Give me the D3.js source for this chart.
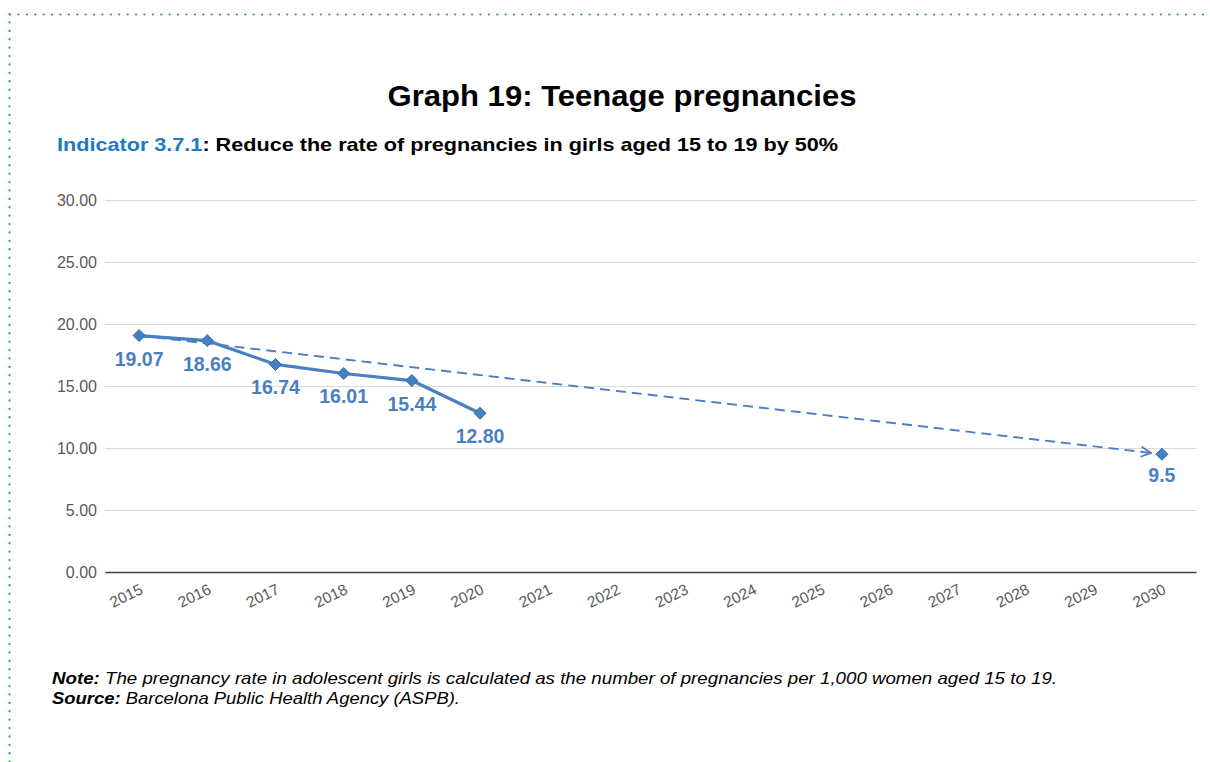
<!DOCTYPE html>
<html><head><meta charset="utf-8">
<script src="https://cdn.jsdelivr.net/npm/d3@7"></script>
<style>
html,body{margin:0;padding:0;background:#fff;}
svg{display:block;font-family:"Liberation Sans",Arial,Helvetica,sans-serif;}
</style></head>
<body>
<svg id="chart" width="1210" height="762"></svg>
<script>
const years = ["2015","2016","2017","2018","2019","2020","2021","2022","2023","2024","2025","2026","2027","2028","2029","2030"];
const actualYears = ["2015","2016","2017","2018","2019","2020"];
const actualValues = [19.07, 18.66, 16.74, 16.01, 15.44, 12.80];
const actualLabels = ["19.07","18.66","16.74","16.01","15.44","12.80"];
const targetYears = ["2015","2030"];
const targetValues = [19.07, 9.5];
const targetLabel = "9.5";
const yTicks = [0, 5, 10, 15, 20, 25, 30];

const svg = d3.select("#chart");
const W = 1210, H = 762;

// dotted green frame
svg.append("line").attr("x1",10).attr("x2",W).attr("y1",14.5).attr("y2",14.5)
  .attr("stroke","#2ea84a").attr("stroke-width",2.2).attr("stroke-linecap","round")
  .attr("stroke-dasharray","0.1 8.3");
svg.append("line").attr("x1",9.5).attr("x2",9.5).attr("y1",14).attr("y2",H)
  .attr("stroke","#2ea84a").attr("stroke-width",2.2).attr("stroke-linecap","round")
  .attr("stroke-dasharray","0.1 8.3");

// titles
svg.append("text").attr("x",622).attr("y",106).attr("text-anchor","middle")
  .attr("font-size",30).attr("font-weight","bold").attr("fill","#000")
  .attr("textLength",469).attr("lengthAdjust","spacingAndGlyphs")
  .text("Graph 19: Teenage pregnancies");
const sub = svg.append("text").attr("x",57).attr("y",151)
  .attr("font-size",19).attr("font-weight","bold").attr("fill","#000")
  .attr("textLength",781).attr("lengthAdjust","spacingAndGlyphs");
sub.append("tspan").attr("fill","#1b7ac4").text("Indicator 3.7.1");
sub.append("tspan").text(": Reduce the rate of pregnancies in girls aged 15 to 19 by 50%");

// scales
const x = d3.scaleBand().domain(years).range([105, 1196]);
const cx = d => x(d) + x.bandwidth()/2;
const y = d3.scaleLinear().domain([0, 30]).range([572, 200]);

// grid + y labels
const yAxis = d3.axisLeft(y).tickValues(yTicks).tickSize(-(1196-105)).tickFormat(d3.format(".2f")).tickPadding(8);
const gy = svg.append("g").attr("transform","translate(105,0)").call(yAxis);
gy.select(".domain").remove();
gy.selectAll(".tick line").attr("stroke","#d9d9d9").attr("stroke-width",1);
gy.selectAll(".tick text").attr("font-size",16).attr("fill","#595959")
  .attr("font-family","Liberation Sans, Arial, sans-serif");

// x axis
const xAxis = d3.axisBottom(x).tickSize(0).tickPadding(0);
const gx = svg.append("g").attr("transform","translate(0,572)").call(xAxis);
gx.select(".domain").attr("stroke","#404040").attr("stroke-width",1.3);
gx.selectAll(".tick text")
  .attr("font-size",15.5).attr("fill","#595959")
  .attr("font-family","Liberation Sans, Arial, sans-serif")
  .attr("text-anchor","end").attr("dy",null).attr("y",0)
  .attr("transform","translate(5,21) rotate(-26)");

// target dashed line with arrow
const defs = svg.append("defs");
defs.append("marker").attr("id","arrow").attr("viewBox","0 0 12 12").attr("refX",11).attr("refY",6)
  .attr("markerWidth",12).attr("markerHeight",12).attr("markerUnits","userSpaceOnUse").attr("orient","auto")
  .append("path").attr("d","M1,1 L11,6 L1,11").attr("fill","none").attr("stroke","#4a7fc1").attr("stroke-width",1.8);

const x0 = cx(targetYears[0]), y0 = y(targetValues[0]);
const x1 = cx(targetYears[1]), y1 = y(targetValues[1]);
const len = Math.hypot(x1-x0, y1-y0), shorten = 11;
svg.append("line").attr("x1",x0).attr("y1",y0)
  .attr("x2",x1 - (x1-x0)/len*shorten).attr("y2",y1 - (y1-y0)/len*shorten)
  .attr("stroke","#4a7fc1").attr("stroke-width",1.9).attr("stroke-dasharray","10 6")
  .attr("marker-end","url(#arrow)");

// actual line
const line = d3.line().x((d,i)=>cx(actualYears[i])).y(d=>y(d));
svg.append("path").datum(actualValues).attr("d",line).attr("fill","none")
  .attr("stroke","#4a7fc1").attr("stroke-width",3.2).attr("stroke-linejoin","round");

function diamond(g, px, py){
  g.append("path").attr("d",`M${px},${py-6} L${px+6},${py} L${px},${py+6} L${px-6},${py} Z`)
   .attr("fill","#4480c4").attr("stroke","#2f6aae").attr("stroke-width",1);
}
const mk = svg.append("g");
actualValues.forEach((v,i)=>diamond(mk, cx(actualYears[i]), y(v)));
diamond(mk, x1, y1);

// data labels
const lab = svg.append("g").attr("font-size",19.5).attr("font-weight","bold").attr("fill","#4a7fc1").attr("text-anchor","middle");
actualValues.forEach((v,i)=>{
  lab.append("text").attr("x",cx(actualYears[i])).attr("y",y(v)+30).text(actualLabels[i]);
});
lab.append("text").attr("x",x1).attr("y",y1+28).text(targetLabel);

// notes
const n1 = svg.append("text").attr("x",52).attr("y",684).attr("font-size",16.5).attr("font-style","italic").attr("fill","#000")
  .attr("textLength",1005).attr("lengthAdjust","spacingAndGlyphs");
n1.append("tspan").attr("font-weight","bold").text("Note:");
n1.append("tspan").text(" The pregnancy rate in adolescent girls is calculated as the number of pregnancies per 1,000 women aged 15 to 19.");
const n2 = svg.append("text").attr("x",52).attr("y",704).attr("font-size",16.5).attr("font-style","italic").attr("fill","#000")
  .attr("textLength",408).attr("lengthAdjust","spacingAndGlyphs");
n2.append("tspan").attr("font-weight","bold").text("Source:");
n2.append("tspan").text(" Barcelona Public Health Agency (ASPB).");
</script>
</body></html>
